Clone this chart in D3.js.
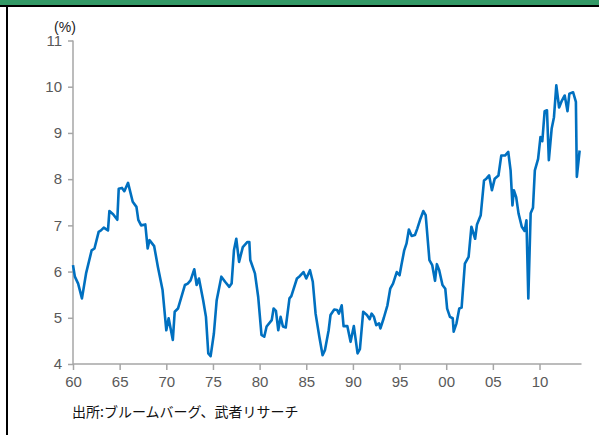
<!DOCTYPE html>
<html><head><meta charset="utf-8">
<script src="https://cdn.jsdelivr.net/npm/d3@7"></script>
<style>html,body{margin:0;padding:0;background:#fff;}svg{display:block;}</style>
</head><body>
<script>
const years = [1960.0,1960.2,1960.55,1960.96,1961.4,1962.0,1962.3,1962.75,1963.0,1963.3,1963.75,1963.9,1964.3,1964.75,1964.9,1965.25,1965.5,1965.9,1966.4,1966.8,1967.0,1967.3,1967.75,1968.0,1968.2,1968.7,1969.1,1969.6,1970.0,1970.25,1970.7,1970.9,1971.25,1972.0,1972.3,1972.6,1973.0,1973.25,1973.5,1973.95,1974.25,1974.5,1974.75,1975.1,1975.4,1975.9,1976.3,1976.75,1977.0,1977.25,1977.5,1977.8,1978.2,1978.7,1978.9,1979.0,1979.5,1979.85,1980.2,1980.5,1980.75,1981.3,1981.5,1981.75,1982.0,1982.25,1982.5,1982.8,1983.2,1983.4,1984.0,1984.3,1984.7,1985.0,1985.4,1985.7,1986.0,1986.4,1986.75,1987.0,1987.4,1987.6,1988.0,1988.3,1988.5,1988.8,1989.0,1989.4,1989.75,1990.1,1990.5,1990.75,1991.1,1991.5,1991.8,1992.0,1992.25,1992.5,1992.8,1992.95,1993.3,1993.7,1994.0,1994.3,1994.7,1995.0,1995.2,1995.5,1995.75,1996.0,1996.3,1996.65,1996.9,1997.2,1997.55,1997.8,1998.2,1998.5,1998.8,1999.0,1999.25,1999.6,1999.9,2000.1,2000.4,2000.7,2000.8,2001.1,2001.4,2001.65,2002.0,2002.4,2002.7,2003.1,2003.3,2003.7,2004.05,2004.3,2004.6,2004.9,2005.2,2005.6,2005.9,2006.3,2006.65,2006.9,2007.1,2007.25,2007.5,2007.75,2008.1,2008.4,2008.6,2008.8,2009.05,2009.3,2009.5,2009.85,2010.1,2010.3,2010.55,2010.8,2011.0,2011.3,2011.55,2011.8,2012.1,2012.4,2012.7,2013.0,2013.2,2013.6,2013.9,2014.0,2014.3];
const values = [6.14,5.89,5.74,5.42,5.96,6.46,6.50,6.86,6.89,6.95,6.89,7.31,7.24,7.12,7.79,7.81,7.74,7.92,7.51,7.40,7.12,7.00,7.02,6.50,6.68,6.55,6.10,5.60,4.73,4.99,4.52,5.13,5.20,5.71,5.74,5.81,6.05,5.71,5.85,5.38,5.02,4.23,4.17,4.66,5.38,5.89,5.78,5.67,5.74,6.46,6.71,6.21,6.53,6.64,6.64,6.25,5.96,5.45,4.63,4.59,4.81,4.95,5.20,5.15,4.73,5.02,4.81,4.79,5.42,5.47,5.85,5.90,5.99,5.85,6.03,5.78,5.09,4.59,4.19,4.30,4.73,5.06,5.18,5.17,5.09,5.27,4.82,4.82,4.48,4.82,4.23,4.32,5.13,5.06,4.97,5.09,5.02,4.84,4.88,4.77,4.99,5.27,5.63,5.74,5.99,5.92,6.14,6.46,6.61,6.91,6.77,6.79,6.93,7.12,7.31,7.22,6.25,6.14,5.80,6.16,6.03,5.71,5.63,5.20,5.02,4.99,4.70,4.88,5.20,5.22,6.17,6.32,6.97,6.71,7.02,7.22,7.97,8.01,8.08,7.76,8.01,8.08,8.51,8.51,8.59,8.19,7.43,7.76,7.61,7.26,6.97,6.88,7.11,5.42,7.26,7.38,8.19,8.44,8.91,8.82,9.47,9.49,8.41,9.09,9.34,10.03,9.55,9.70,9.81,9.47,9.85,9.88,9.67,8.05,8.62];
const xTicks = [1960,1965,1970,1975,1980,1985,1990,1995,2000,2005,2010];
const xTickLabels = ["60","65","70","75","80","85","90","95","00","05","10"];
const yTicks = [4,5,6,7,8,9,10,11];
const unitLabel = "(%)";
const sourceText = "出所:ブルームバーグ、武者リサーチ";

const W = 599, H = 435;
const svg = d3.select("body").append("svg").attr("width", W).attr("height", H);
svg.append("rect").attr("width", W).attr("height", H).attr("fill", "#fff");

// frame
svg.append("rect").attr("x", 0).attr("y", 0).attr("width", W).attr("height", 5).attr("fill", "#339966");
svg.append("rect").attr("x", 0).attr("y", 5).attr("width", W).attr("height", 2).attr("fill", "#000");
svg.append("rect").attr("x", 6).attr("y", 5).attr("width", 2).attr("height", H - 5).attr("fill", "#000");

const x = d3.scaleLinear().domain([1960, 2014.5]).range([73, 581.5]);
const y = d3.scaleLinear().domain([4, 11]).range([364, 40.5]);

const axisColor = "#a6a6a6";
const textColor = "#595959";

// y axis
const yAxis = svg.append("g").attr("transform", "translate(73,0)")
  .call(d3.axisLeft(y).tickValues(yTicks).tickSize(5).tickPadding(6).tickFormat(d3.format("d")));
// x axis
const xAxis = svg.append("g").attr("transform", "translate(0,364)")
  .call(d3.axisBottom(x).tickValues(xTicks).tickSize(6).tickPadding(6).tickFormat((d, i) => xTickLabels[i]));
[yAxis, xAxis].forEach(g => {
  g.select(".domain").attr("stroke", axisColor).attr("stroke-width", 1.5);
  g.selectAll(".tick line").attr("stroke", axisColor).attr("stroke-width", 1.5);
  g.selectAll(".tick text").attr("fill", textColor).attr("font-family", "Liberation Sans, Arial, sans-serif").attr("font-size", 15);
});
xAxis.select(".domain").attr("d", `M73,0H581.5`);
yAxis.select(".domain").attr("d", `M0,${y(11)}V${y(4)}`);

// line
const line = d3.line().x((d, i) => x(years[i])).y(d => y(d));
svg.append("path").datum(values).attr("d", line).attr("fill", "none")
  .attr("stroke", "#0070c0").attr("stroke-width", 2.6).attr("stroke-linejoin", "round");

// unit label
svg.append("text").attr("x", 65).attr("y", 32).attr("text-anchor", "middle")
  .attr("font-family", "Liberation Sans, Arial, sans-serif").attr("font-size", 14).attr("fill", "#222").text(unitLabel);

// source
svg.append("text").attr("x", 72).attr("y", 417)
  .attr("font-family", "Noto Sans CJK JP, sans-serif").attr("font-size", 14).attr("fill", "#111").text(sourceText);
</script>
</body></html>
